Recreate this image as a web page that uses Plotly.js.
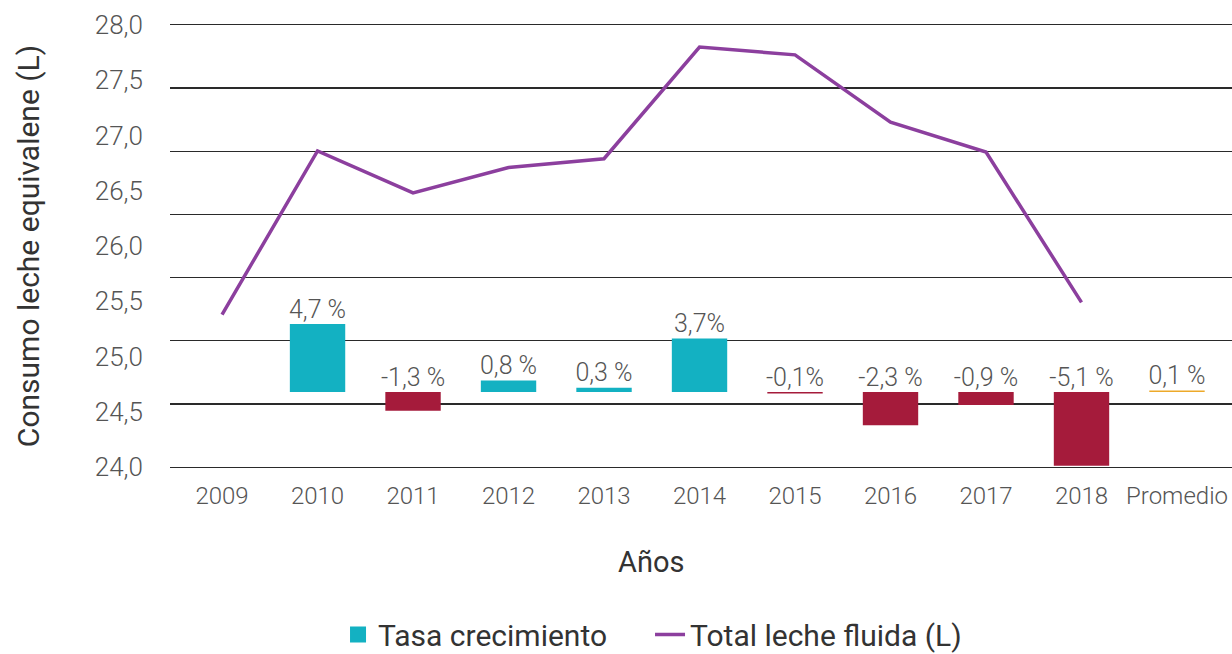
<!DOCTYPE html>
<html>
<head>
<meta charset="utf-8">
<script src="https://cdn.plot.ly/plotly-3.0.1.min.js"></script>
<style>html,body{margin:0;padding:0;background:#fff;}#chart{width:1232px;height:654px;}</style>
</head>
<body>
<div id="chart"></div>
<script>
// ---- Data ----
const categories = ['2009','2010','2011','2012','2013','2014','2015','2016','2017','2018','Promedio'];
const lineYears = ['2009','2010','2011','2012','2013','2014','2015','2016','2017','2018'];
const totalLeche = [25.38, 26.86, 26.48, 26.71, 26.79, 27.80, 27.73, 27.12, 26.85, 25.49];
const tasa = [null, 4.7, -1.3, 0.8, 0.3, 3.7, -0.1, -2.3, -0.9, -5.1, 0.1];
const tasaLabels = ['', '4,7 %', '-1,3 %', '0,8 %', '0,3 %', '3,7%', '-0,1%', '-2,3 %', '-0,9 %', '-5,1 %', '0,1 %'];
const yTicks = [24, 24.5, 25, 25.5, 26, 26.5, 27, 27.5, 28];

// ---- Styles ----
const TEAL = '#13B1C2', CRIMSON = '#A51B3B', ORANGE = '#EDA92A', PURPLE = '#8C3F9E';
const TXT = '#4a4a4a';
const GRID = '#2a2a2a';
const FONT = 'Roboto, "Open Sans", sans-serif';

const barColors = categories.map((c, i) => c === 'Promedio' ? ORANGE : (tasa[i] !== null && tasa[i] < 0 ? CRIMSON : TEAL));

// secondary axis (growth rate) range & grid spacing (7 equal intervals)
const r0 = -5.19, r1 = 25.40;
const gridStep = (r1 - r0) / 7;

const traces = [
  {
    type: 'bar', name: 'Tasa crecimiento', x: categories, y: tasa, yaxis: 'y2',
    width: 0.58, marker: {color: barColors}, hoverinfo: 'x+y', showlegend: false, legendgroup: 'tasa'
  },
  {
    // legend entry for the growth-rate bars (square swatch)
    type: 'scatter', mode: 'markers', name: 'Tasa crecimiento', x: [null], y: [null], yaxis: 'y2',
    marker: {symbol: 'square', size: 22, color: TEAL}, legendgroup: 'tasa', hoverinfo: 'skip'
  },
  {
    type: 'scatter', mode: 'lines', name: 'Total leche fluida (L)', x: lineYears, y: totalLeche,
    line: {color: PURPLE, width: 3.5}
  },
  {
    type: 'scatter', mode: 'text', x: categories, y: tasa.map(v => v === null ? null : Math.max(0, v)),
    text: tasaLabels, textposition: 'top center', yaxis: 'y2', showlegend: false, hoverinfo: 'skip',
    textfont: {family: FONT, size: 25, color: '#555', weight: 300}
  }
];

const layout = {
  width: 1232, height: 654,
  margin: {l: 170, r: 0, t: 25, b: 187},
  paper_bgcolor: '#fff', plot_bgcolor: '#fff',
  separators: ',.',
  font: {family: FONT, color: TXT, weight: 300},
  barmode: 'overlay',
  showlegend: true,
  legend: {
    orientation: 'h', x: 0.452, xanchor: 'center', yref: 'container', y: 0.03, yanchor: 'middle',
    font: {family: FONT, size: 30, color: '#333', weight: 400},
    entrywidth: 267, entrywidthmode: 'pixels', tracegroupgap: 0
  },
  xaxis: {
    type: 'category', range: [-0.545, 10.576], showgrid: false, zeroline: false,
    showline: true, mirror: true, linecolor: GRID, linewidth: 1.4,
    ticks: '', tickfont: {family: FONT, size: 24, color: '#555', weight: 300},
    ticklabelstandoff: 7, fixedrange: true
  },
  yaxis: {
    range: [24, 28], tickvals: yTicks, tickformat: '.1f', showgrid: false, zeroline: false,
    ticks: '', ticklabelstandoff: 26, tickfont: {family: FONT, size: 26, color: '#555', weight: 300},
    title: {text: 'Consumo leche equivalene (L)', font: {family: FONT, size: 30, color: '#333', weight: 400}, standoff: 46},
    fixedrange: true
  },
  yaxis2: {
    overlaying: 'y', side: 'right', range: [r0, r1], tickmode: 'linear', tick0: r0, dtick: gridStep,
    showticklabels: false, showgrid: true, gridcolor: GRID, gridwidth: 1.4, zeroline: false, ticks: '',
    fixedrange: true
  },
  annotations: [
    {text: 'Años', xref: 'paper', yref: 'paper', x: (651 - 170) / 1062, y: (467 - 562) / 442,
     xanchor: 'center', yanchor: 'middle', showarrow: false,
     font: {family: FONT, size: 29, color: '#333', weight: 400}}
  ]
};

Plotly.newPlot('chart', traces, layout, {displayModeBar: false, staticPlot: true});
</script>
</body>
</html>
